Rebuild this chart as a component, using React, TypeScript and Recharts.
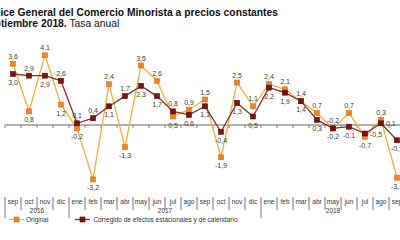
import { LineChart, Line, XAxis, YAxis, ReferenceLine, LabelList } from 'recharts';

const months = ['sep', 'oct', 'nov', 'dic', 'ene', 'feb', 'mar', 'abr', 'may', 'jun', 'jul', 'ago', 'sep', 'oct', 'nov', 'dic', 'ene', 'feb', 'mar', 'abr', 'may', 'jun', 'jul', 'ago', 'sep'];
const years = ['2016', '2016', '2016', '2016', '2017', '2017', '2017', '2017', '2017', '2017', '2017', '2017', '2017', '2017', '2017', '2017', '2018', '2018', '2018', '2018', '2018', '2018', '2018', '2018', '2018'];
const original = [3.6, 0.8, 4.1, 1.2, -0.2, -3.2, 2.4, -1.3, 3.5, 2.6, 0.5, 0.9, 1.5, -1.9, 2.5, 1.1, 2.4, 2.1, 1.4, 0.7, -0.2, 0.7, -0.7, 0.3, -3.1];
const corregido = [3.0, 2.9, 2.9, 2.6, 0.1, 0.4, 1.1, 1.7, 2.3, 1.7, 0.8, 0.6, 1.1, -0.4, 1.3, 0.5, 2.2, 1.9, 1.4, 0.3, -0.2, -0.1, -0.5, 0.1, -0.9];

const data = months.map((m, i) => ({
  key: `${m}-${years[i]}`,
  mes: m,
  year: years[i],
  original: original[i],
  corregido: corregido[i],
}));

const ORANGE_LINE = '#f6ad3a';
const ORANGE_DOT = '#ef8422';
const RED_LINE = '#8e2b2b';
const RED_DOT = '#7a1212';
const FONT = '"Liberation Sans", Arial, sans-serif';

const PLOT_W = 400;
const step = PLOT_W / months.length;

// label placement overrides for the adjusted series
const corrLabelPos: Record<number, string> = { 13: 'bottom', 22: 'right', 23: 'right', 24: 'bottom' };

const fmt = (v: number) => v.toFixed(1).replace('.', ',');

function square(fill: string, stroke: string) {
  return (p: any) => (
    <rect key={`d-${p.index}`} x={p.cx - 2.5} y={p.cy - 2.5} width={5} height={5} fill={fill} stroke={stroke} strokeWidth={0.6} />
  );
}

function makeLabel(series: 'o' | 'c') {
  return (p: any) => {
    const i = p.index;
    const v = Number(p.value);
    let pos: string;
    if (series === 'o') pos = original[i] >= corregido[i] ? 'top' : 'bottom';
    else pos = corrLabelPos[i] ?? (corregido[i] > original[i] ? 'top' : 'bottom');
    let x = p.x;
    let y = pos === 'top' ? p.y - 5 : p.y + 11;
    let anchor: any = 'middle';
    if (pos === 'right') {
      x = p.x + 5;
      y = p.y + 3;
      anchor = 'start';
    }
    return (
      <text key={`l-${series}-${i}`} x={x} y={y} textAnchor={anchor} fontSize={7} fill="#404040" fontFamily={FONT}>
        {fmt(v)}
      </text>
    );
  };
}

function MonthTick(props: any) {
  const { x, y, payload } = props;
  const i = payload.index ?? props.index;
  const row = data[i];
  const firstOfYear = i === 0 || data[i - 1].year !== row.year;
  let yearLabel = null;
  if (firstOfYear) {
    let n = 0;
    while (i + n < data.length && data[i + n].year === row.year) n++;
    yearLabel = (
      <text x={x + ((n - 1) * step) / 2} y={y + 20} textAnchor="middle" fontSize={6.5} fill="#333" fontFamily={FONT}>
        {row.year}
      </text>
    );
  }
  return (
    <g>
      <line x1={x - step / 2} x2={x - step / 2} y1={y + 4} y2={firstOfYear ? y + 25 : y + 17} stroke="#555" strokeWidth={0.8} />
      {i === data.length - 1 && (
        <line x1={x + step / 2} x2={x + step / 2} y1={y + 4} y2={y + 17} stroke="#555" strokeWidth={0.8} />
      )}
      <text x={x} y={y + 10.5} textAnchor="middle" fontSize={6.5} fill="#333" fontFamily={FONT}>
        {row.mes}
      </text>
      {yearLabel}
    </g>
  );
}

function ZeroAxis(p: any) {
  const n = months.length;
  const w = (p.x2 - p.x1) / n;
  return (
    <g>
      <line x1={p.x1} x2={p.x2} y1={p.y1} y2={p.y2} stroke="#666" strokeWidth={1} />
      {months.map((_, k) => (
        <line key={k} x1={p.x1 + k * w} x2={p.x1 + k * w} y1={p.y1} y2={p.y1 + 3} stroke="#666" strokeWidth={0.8} />
      ))}
    </g>
  );
}

function LegendIcon({ line, fill, stroke }: { line: string; fill: string; stroke: string }) {
  return (
    <svg width={15} height={7} style={{ display: 'block' }}>
      <line x1={0} x2={15} y1={3.5} y2={3.5} stroke={line} strokeWidth={1.3} />
      <rect x={5} y={1} width={5} height={5} fill={fill} stroke={stroke} strokeWidth={0.6} />
    </svg>
  );
}

export default function App() {
  return (
    <div style={{ position: 'fixed', left: 0, top: 0, width: 400, height: 240, overflow: 'hidden', background: '#fff', fontFamily: FONT }}>
      <div style={{ position: 'absolute', left: -15, top: 7, fontSize: 10.3, fontWeight: 'bold', color: '#111', whiteSpace: 'nowrap', lineHeight: '12px' }}>
        Índice General del Comercio Minorista a precios constantes
      </div>
      <div style={{ position: 'absolute', left: -18, top: 18, fontSize: 10.3, color: '#111', whiteSpace: 'nowrap', lineHeight: '12px' }}>
        <b>Septiembre 2018.</b> Tasa anual
      </div>
      <div style={{ position: 'absolute', left: 0, top: 0 }}>
        <LineChart width={410} height={240} data={data} margin={{ top: 40, right: 5, left: 5, bottom: 0 }}>
          <XAxis
            dataKey="key"
            scale="point"
            padding={{ left: step / 2, right: step / 2 }}
            axisLine={false}
            tickLine={false}
            tickSize={0}
            tickMargin={0}
            interval={0}
            height={47}
            tick={MonthTick}
          />
          <YAxis hide domain={[-4, 5]} />
          <ReferenceLine y={0} shape={ZeroAxis} />
          <Line
            type="linear"
            dataKey="original"
            stroke={ORANGE_LINE}
            strokeWidth={1.3}
            dot={square(ORANGE_DOT, '#d9701a')}
            activeDot={false}
            isAnimationActive={false}
          >
            <LabelList dataKey="original" content={makeLabel('o')} />
          </Line>
          <Line
            type="linear"
            dataKey="corregido"
            stroke={RED_LINE}
            strokeWidth={1.3}
            dot={square(RED_DOT, '#5a0a0a')}
            activeDot={false}
            isAnimationActive={false}
          >
            <LabelList dataKey="corregido" content={makeLabel('c')} />
          </Line>
        </LineChart>
      </div>
      <div style={{ position: 'absolute', left: 9, top: 216, display: 'flex', alignItems: 'center', fontSize: 6.5, color: '#333', whiteSpace: 'nowrap' }}>
        <LegendIcon line={ORANGE_LINE} fill={ORANGE_DOT} stroke="#d9701a" />
        <span style={{ marginLeft: 2 }}>Original</span>
        <span style={{ width: 27 }} />
        <LegendIcon line={RED_LINE} fill={RED_DOT} stroke="#5a0a0a" />
        <span style={{ marginLeft: 3 }}>Corregido de efectos estacionales y de calendario</span>
      </div>
    </div>
  );
}
